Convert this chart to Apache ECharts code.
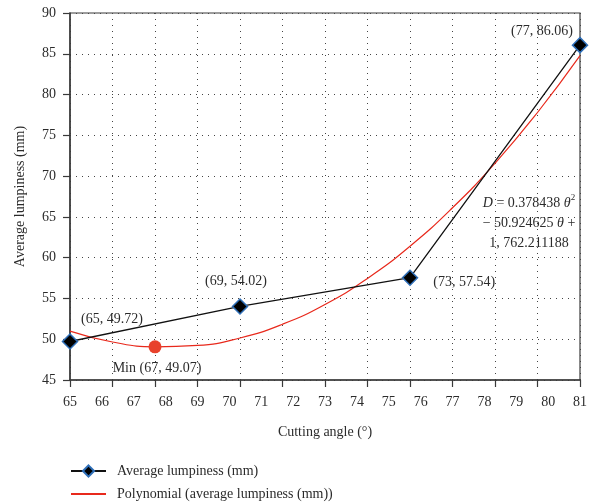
<!DOCTYPE html>
<html>
<head>
<meta charset="utf-8">
<script src="https://cdn.jsdelivr.net/npm/echarts@6/dist/echarts.min.js"></script>
<style>
  html,body{margin:0;padding:0;background:#fff;}
  #main{width:590px;height:502px;}
</style>
</head>
<body>
<div id="main"></div>
<script>
  // measured points (plotted on the 65..77 scale of the original chart)
  var angles = [65, 69, 73, 77];
  var lumpiness = [49.72, 54.02, 57.54, 86.06];
  var pointLabels = ['(65, 49.72)', '(69, 54.02)', '(73, 57.54)', '(77, 86.06)'];
  // trendline
  var fitX = [65, 66, 67, 68, 69, 70, 71, 72, 73, 74, 75, 76, 77];
  var fitY = [51.0, 49.66, 49.07, 49.24, 50.15, 51.84, 54.26, 57.46, 61.41, 66.12, 71.57, 77.8, 84.77];
  var minPoint = [67, 49.07];
  var tickLabels = [65, 66, 67, 68, 69, 70, 71, 72, 73, 74, 75, 76, 77, 78, 79, 80, 81];

  var font = 'Liberation Serif';
  var txt = '#2b2b2b';

  var chart = echarts.init(document.getElementById('main'));

  // label offsets per point
  var labelPos = [
    {position: 'top', offset: [42, -2]},
    {position: 'top', offset: [-4, -5]},
    {position: 'right', offset: [10, 5]},
    {position: 'top', offset: [-38, 6]}
  ];

  var mainData = angles.map(function (a, i) {
    return {
      value: [a, lumpiness[i]],
      label: {show: true, formatter: pointLabels[i], position: labelPos[i].position, offset: labelPos[i].offset}
    };
  });

  var option = {
    animation: false,
    backgroundColor: '#fff',
    textStyle: {fontFamily: font},
    grid: {
      left: 70, right: 9, top: 13, bottom: 122,
      show: true, borderColor: '#3a3a3a', borderWidth: 1.2
    },
    legend: {
      orient: 'vertical',
      left: 70, top: 464, padding: 0,
      itemWidth: 35, itemHeight: 14, itemGap: 9,
      textStyle: {fontFamily: font, fontSize: 14, color: txt, padding: [0, 0, 0, 6]},
      data: [
        {name: 'Average lumpiness (mm)'},
        {name: 'Polynomial (average lumpiness (mm))', icon: 'path://M0,0 L10,0 L10,0.6 L0,0.6 Z'}
      ]
    },
    xAxis: [
      {
        type: 'value', min: 65, max: 77, interval: 1,
        axisLine: {lineStyle: {color: '#3a3a3a', width: 1.5}},
        axisTick: {show: true, length: 7, lineStyle: {color: '#3a3a3a', width: 1.2}},
        axisLabel: {show: false},
        splitLine: {show: true, lineStyle: {type: [1, 5], color: '#444', width: 1}}
      },
      {
        type: 'value', min: 65, max: 81, interval: 1, position: 'bottom',
        axisLine: {show: false}, axisTick: {show: false}, splitLine: {show: false},
        axisLabel: {
          margin: 15, fontSize: 14, color: txt, fontFamily: font,
          formatter: function (v) { return tickLabels.indexOf(v) >= 0 ? String(v) : ''; }
        },
        name: 'Cutting angle (°)', nameLocation: 'middle', nameGap: 45,
        nameTextStyle: {fontSize: 14, color: txt, fontFamily: font}
      }
    ],
    yAxis: {
      type: 'value', min: 45, max: 90, interval: 5,
      axisLine: {show: true, lineStyle: {color: '#3a3a3a', width: 1.5}},
      axisTick: {show: true, length: 7, lineStyle: {color: '#3a3a3a', width: 1.2}},
      axisLabel: {margin: 14, fontSize: 14, color: txt, fontFamily: font},
      splitLine: {show: true, lineStyle: {type: [1, 5], color: '#444', width: 1}},
      name: 'Average lumpiness (mm)', nameLocation: 'middle', nameGap: 43,
      nameTextStyle: {fontSize: 14, color: txt, fontFamily: font}
    },
    series: [
      {
        name: 'Polynomial (average lumpiness (mm))',
        type: 'line', xAxisIndex: 0, smooth: true, symbol: 'none',
        data: fitX.map(function (x, i) { return [x, fitY[i]]; }),
        lineStyle: {color: '#e8291c', width: 1.2},
        itemStyle: {color: '#e8291c'},
        z: 2
      },
      {
        name: 'Average lumpiness (mm)',
        type: 'line', xAxisIndex: 0,
        symbol: 'diamond', symbolSize: 15,
        data: mainData,
        lineStyle: {color: '#111', width: 1.3},
        itemStyle: {color: '#000', borderColor: '#2f6fb8', borderWidth: 1.5},
        label: {fontSize: 14, color: txt, fontFamily: font},
        z: 3
      },
      {
        name: 'min',
        type: 'scatter', xAxisIndex: 0,
        symbolSize: 13,
        data: [minPoint],
        itemStyle: {color: '#e8412b', opacity: 1},
        label: {show: true, position: 'bottom', offset: [2, 3], formatter: 'Min (67, 49.07)', fontSize: 14, color: txt, fontFamily: font, opacity: 1},
        z: 4
      }
    ],
    graphic: [
      {
        type: 'text', x: 529, y: 193, z: 10,
        style: {
          text: '{i|D} = 0.378438 {i|θ}{s|2}\n− 50.924625 {i|θ} +\n1, 762.211188',
          align: 'center', fontSize: 14, lineHeight: 20, fill: txt, fontFamily: font,
          rich: {
            i: {fontStyle: 'italic', fontSize: 14, fontFamily: font, fill: txt},
            s: {fontSize: 9, verticalAlign: 'top', padding: [0, 0, 8, 0], fontFamily: font, fill: txt}
          }
        }
      }
    ]
  };

  chart.setOption(option);
</script>
</body>
</html>
